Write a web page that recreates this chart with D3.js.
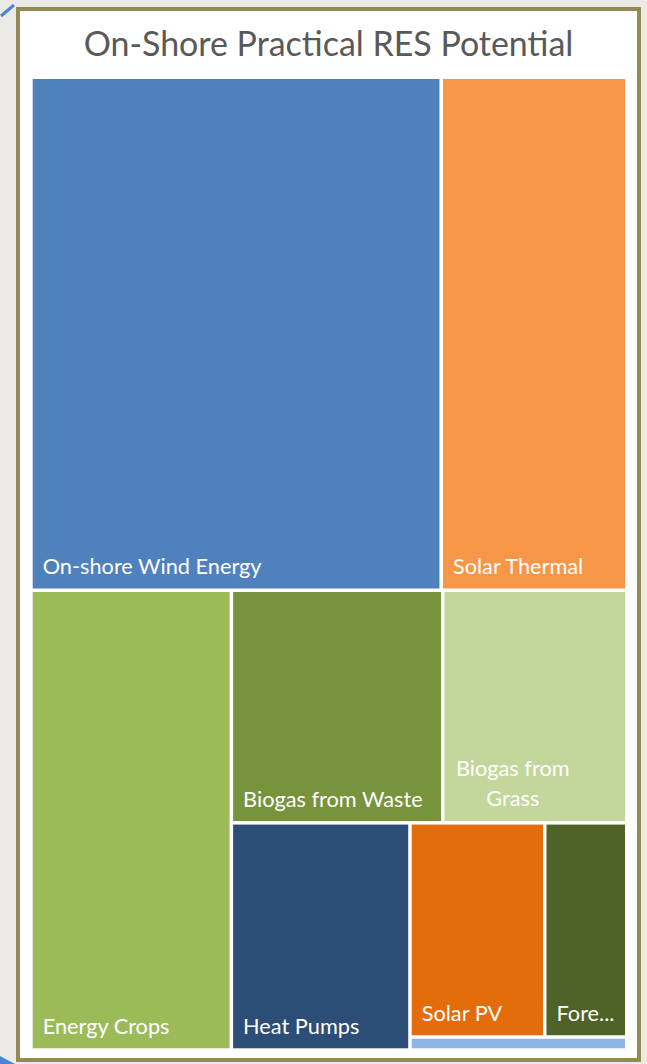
<!DOCTYPE html>
<html><head><meta charset="utf-8">
<script src="https://cdn.jsdelivr.net/npm/d3@7"></script>
<style>html,body{margin:0;padding:0;background:#ECEAE6;} svg{display:block}</style>
</head><body>
<svg id="chart" width="647" height="1064"></svg>
<script>
// ---- data ----
const chartTitle = "On-Shore Practical RES Potential";
const categories = ["On-shore Wind Energy","Solar Thermal","Energy Crops","Biogas from Waste","Biogas from Grass","Heat Pumps","Solar PV","Forestry","Hydro"];
const values = [2085, 943, 913, 487, 424, 402, 286, 174, 28];
const palette = ["#4F81BD","#F79646","#9BBB59","#77933C","#C3D69B","#2C4D75","#E46C0A","#4F6228","#8EB4E3"];

// ---- layout ----
const W = 647, H = 1064;
const plot = {x: 32.7, y: 79, w: 592.3, h: 969.3};
const groupSizes = [2,1,2,1,2,1];
const fontFamily = "Lato, 'Open Sans', sans-serif";

const svg = d3.select("#chart");
const color = d3.scaleOrdinal(categories, palette);

// background & frame
svg.append("rect").attr("width", W).attr("height", H).attr("fill", "#ECEAE6");
svg.append("rect").attr("x", 18).attr("y", 9).attr("width", 621).attr("height", 1051)
  .attr("fill", "#FFFFFF").attr("stroke", "#948A54").attr("stroke-width", 4);
// selection handle marks
svg.append("line").attr("x1", 1).attr("y1", 16).attr("x2", 14).attr("y2", 5)
  .attr("stroke", "#4A86D8").attr("stroke-width", 3);
svg.append("path").attr("d", "M0,1056 L15,1064 L0,1064 Z").attr("fill", "#4A86D8");

// measuring helper
function measure(text, size) {
  const t = svg.append("text").attr("font-family", fontFamily).attr("font-size", size).text(text);
  const w = t.node().getComputedTextLength();
  t.remove();
  return w;
}

// title
const titleSize = 30 * 490 / measure(chartTitle, 30);
svg.append("text").attr("x", 328.5).attr("y", 56).attr("text-anchor", "middle")
  .attr("font-family", fontFamily).attr("font-size", titleSize).attr("fill", "#595959")
  .text(chartTitle);

// Excel-like strip tiling
function excelTile(parent, x0, y0, x1, y1) {
  const nodes = parent.children;
  let remaining = parent.value, i = 0, gi = 0;
  while (i < nodes.length) {
    const g = gi < groupSizes.length ? groupSizes[gi] : nodes.length - i; gi++;
    const row = nodes.slice(i, i + g); i += g;
    const sum = d3.sum(row, d => d.value);
    const pseudo = {children: row, value: sum};
    const dx = x1 - x0, dy = y1 - y0;
    if (dx < dy) {
      const h = remaining ? dy * sum / remaining : 0;
      d3.treemapDice(pseudo, x0, y0, x1, y0 + h);
      y0 += h;
    } else {
      const w = remaining ? dx * sum / remaining : 0;
      d3.treemapSlice(pseudo, x0, y0, x0 + w, y1);
      x0 += w;
    }
    remaining -= sum;
  }
}

const root = d3.hierarchy({children: categories.map((c, i) => ({name: c, value: values[i]}))})
  .sum(d => d.value || 0);
d3.treemap().tile(excelTile).size([plot.w, plot.h]).paddingInner(3.5).round(false)(root);

const g = svg.append("g").attr("transform", `translate(${plot.x},${plot.y})`);
const leaves = root.leaves();
g.selectAll("rect.cell").data(leaves).join("rect").attr("class", "cell")
  .attr("x", d => d.x0).attr("y", d => d.y0)
  .attr("width", d => d.x1 - d.x0).attr("height", d => d.y1 - d.y0)
  .attr("fill", d => color(d.data.name));

// labels
const labelSize = 20 * 219 / measure("On-shore Wind Energy", 20);
const pad = 10;
leaves.forEach(d => {
  const cw = d.x1 - d.x0, ch = d.y1 - d.y0;
  if (ch < 30) return;
  const avail = cw - 2 * pad;
  const name = d.data.name;
  const base = {fontFamily};
  const txt = (x, y, s, anchor) => g.append("text").attr("x", x).attr("y", y)
    .attr("text-anchor", anchor).attr("font-family", fontFamily).attr("font-size", labelSize)
    .attr("fill", "#FFFFFF").text(s);
  if (measure(name, labelSize) <= avail) {
    txt(d.x0 + pad, d.y1 - 14, name, "start");
    return;
  }
  // try word wrap
  const words = name.split(" ");
  const lines = []; let cur = "";
  let ok = true;
  words.forEach(w => {
    const test = cur ? cur + " " + w : w;
    if (measure(test, labelSize) <= avail) cur = test;
    else { if (cur) lines.push(cur); cur = w; if (measure(w, labelSize) > avail) ok = false; }
  });
  if (cur) lines.push(cur);
  if (ok && lines.length > 1) {
    const maxW = d3.max(lines, l => measure(l, labelSize));
    const cx = d.x0 + pad + 1.5 + maxW / 2;
    const lh = labelSize * 1.4;
    lines.forEach((l, k) => txt(cx, d.y1 - 15 - (lines.length - 1 - k) * lh, l, "middle"));
    return;
  }
  // truncate
  let s = name;
  while (s.length > 1 && measure(s + "...", labelSize) > avail) s = s.slice(0, -1);
  txt(d.x0 + pad, d.y1 - 14, s + "...", "start");
});
</script>
</body></html>
